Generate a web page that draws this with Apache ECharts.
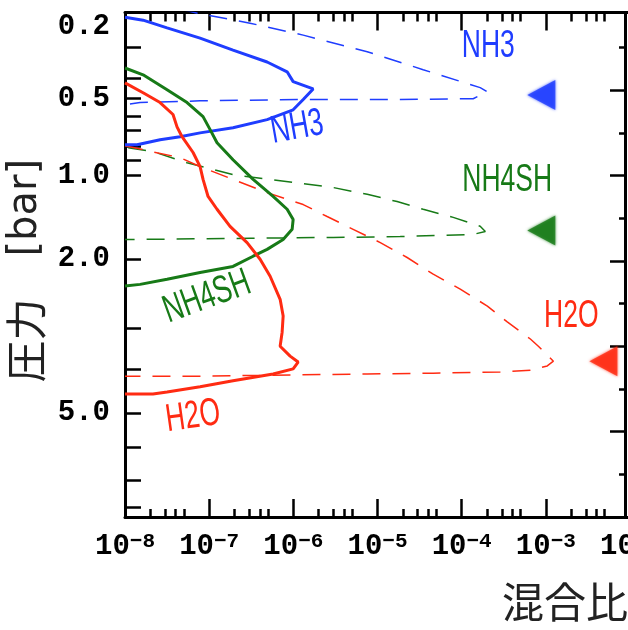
<!DOCTYPE html>
<html>
<head>
<meta charset="utf-8">
<script src="https://cdn.jsdelivr.net/npm/echarts@6/dist/echarts.min.js"></script>
<style>
  html, body { margin: 0; padding: 0; background: #fff; }
  #chart { width: 628px; height: 630px; }
</style>
</head>
<body>
<div id="chart"></div>
<script>
// ---- axis tables ----
// mixing-ratio decades (powers of ten) and the minor multipliers drawn in each decade
const decadeExponents = [-8, -7, -6, -5, -4, -3, -2];
const minorMultipliers = [2, 3, 4, 5];

// pressure levels [bar] and their altitude [km] (1 bar = 0 km)
const pressureLevels = [0.2, 0.3, 0.4, 0.5, 0.6, 0.7, 0.8, 0.9, 1.0, 2.0, 3.0, 4.0, 5.0, 6.0, 7.0, 8.0];
const pressureAltKm  = [38.2, 30.1, 22.7, 18.0, 14.0, 10.5, 6.8, 3.5, 0, -19.6, -35.7, -45.3, -55.6, -63.6, -71.5, -77.6];
const labeledPressures = [5.0, 2.0, 1.0, 0.5, 0.2];

// altitude ticks on the right-hand frame [km]
const altitudeMajorKm = [-80, -60, -40, -20, 0, 20];
const altitudeMinorKm = [-70, -50, -30, -10, 10, 30];
const altitudeBottomKm = -80;

// ---- profiles: [mixing ratio, altitude km] ----
const nh3Cloud = [
  [1.0e-8, 37.1], [1.64e-8, 36.4], [3.16e-8, 34.6], [7.8e-8, 32.2], [1.92e-7, 29.4],
  [4.88e-7, 26.6], [8.44e-7, 24.3], [9.95e-7, 22.0], [1.72e-6, 20.3], [1.31e-6, 17.8],
  [9.95e-7, 15.4], [4.88e-7, 13.1], [1.92e-7, 11.2], [7.8e-8, 10.0], [4.51e-8, 9.1],
  [2.61e-8, 8.4], [1.39e-8, 7.2], [1.0e-8, 7.2]
];
const nh3Gas = [
  [4.51e-8, 39.0], [7.8e-8, 37.9], [3.06e-7, 35.7], [1.31e-6, 32.9], [7.55e-6, 29.0],
  [3.49e-5, 24.8], [1.66e-4, 20.6], [2.02e-4, 19.6], [1.37e-4, 18.0], [1.86e-5, 17.8],
  [1.2e-6, 17.8], [7.8e-8, 17.5], [1.51e-8, 17.1], [1.0e-8, 16.6]
];
const nh4shCloud = [
  [1e-8, 25.2], [1.64e-8, 23.6], [3.16e-8, 20.1], [5.46e-8, 17.1], [8.46e-8, 13.8],
  [1.03e-7, 10.7], [1.24e-7, 7.7], [1.92e-7, 3.7], [3.33e-7, -0.9], [5.75e-7, -4.9],
  [8.44e-7, -7.9], [9.95e-7, -10.3], [9.68e-7, -12.6], [7.57e-7, -15.0], [4.88e-7, -17.3],
  [3.33e-7, -18.9], [1.92e-7, -21.3], [7.8e-8, -22.7], [3.16e-8, -24.3], [1.51e-8, -25.5],
  [1e-8, -25.9]
];
const nh4shGas = [
  [1.09e-8, 6.5], [2.15e-8, 5.6], [5.46e-8, 3.0], [1.92e-7, 0.2], [1.31e-6, -1.9],
  [2.97e-6, -2.8], [7.55e-6, -4.4], [1.71e-5, -6.1], [3.49e-5, -7.9], [7.94e-5, -9.8],
  [1.66e-4, -11.9], [1.91e-4, -13.1], [1.37e-4, -13.8], [1.86e-5, -14.3], [2.97e-6, -14.5],
  [3.06e-7, -14.7], [1e-8, -15.0]
];
const h2oCloud = [
  [1e-8, 21.7], [1.64e-8, 19.4], [2.61e-8, 17.1], [3.72e-8, 14.3], [4.15e-8, 11.4],
  [4.76e-8, 9.1], [6.44e-8, 5.4], [7.8e-8, 2.1], [8.46e-8, -0.9], [9.7e-8, -4.9],
  [1.24e-7, -7.9], [1.77e-7, -11.9], [2.82e-7, -15.7], [4.03e-7, -19.6], [5.3e-7, -23.6],
  [6.97e-7, -29.0], [7.57e-7, -32.9], [7.36e-7, -36.7], [6.97e-7, -40.0], [9.16e-7, -42.3],
  [1.14e-6, -43.7], [9.95e-7, -45.3], [5.75e-7, -46.5], [1.92e-7, -48.1], [7.8e-8, -49.5],
  [3.16e-8, -50.7], [2.15e-8, -51.2], [1e-8, -51.2]
];
const h2oGas = [
  [1e-8, 7.0], [2.09e-8, 5.6], [4.51e-8, 4.2], [7.8e-8, 2.1], [1.92e-7, -0.9],
  [4.88e-7, -4.0], [1.31e-6, -6.8], [2.52e-6, -9.6], [5.14e-6, -12.6], [1.08e-5, -15.7],
  [2.25e-5, -19.2], [4.59e-5, -23.1], [9.62e-5, -26.6], [2.02e-4, -30.6], [3.48e-4, -34.3],
  [6.55e-4, -38.3], [8.15e-4, -40.0], [1.23e-3, -43.5], [1.04e-3, -44.6], [6.55e-4, -45.6],
  [2.88e-4, -46.0], [4.59e-5, -46.3], [7.55e-6, -46.5], [1.2e-6, -46.7], [7.8e-8, -47.0],
  [1e-8, -47.0]
];

// deep-abundance markers (one per species)
const markerAt = [[8.84e-4, 18.9], [8.84e-4, -12.9], [4.83e-3, -43.5]];

// species names written in the plot
const tagText    = ['NH3', 'NH4SH', 'H2O', 'NH3', 'NH4SH', 'H2O'];
const tagAnchor  = [[2.07e-4, 30.4], [3.48e-4, -1.2], [2.01e-3, -32.9], [1.11e-6, 11.2], [9.44e-8, -28.5], [6.44e-8, -56.5]];
const tagAngle   = [0, 0, 0, 10, 20, 8];
const tagSpecies = [0, 1, 2, 0, 1, 2];

// ---- styling ----
const speciesColor = ['#1f3dff', '#177a17', '#ff2b12'];
const frame = { color: '#000', width: 3 };
const tickLine = { color: '#000', width: 2.5 };
const numFont = 'Liberation Mono';
const cjkFont = 'Noto Sans CJK JP';

const xMin = Math.pow(10, decadeExponents[0]);
const xMax = Math.pow(10, decadeExponents[decadeExponents.length - 1]);
const minorX = [];
decadeExponents.slice(0, -1).forEach(function (e) {
  minorMultipliers.forEach(function (m) { minorX.push(m * Math.pow(10, e)); });
});
const labelAlt = labeledPressures.map(function (p) { return pressureAltKm[pressureLevels.indexOf(p)]; });
const yMax = pressureAltKm[0];

function logAxis(position, opts) {
  return Object.assign({
    type: 'log', logBase: 10, min: xMin, max: xMax, position: position,
    axisLine: { show: false, onZero: false, lineStyle: frame },
    axisTick: { show: true, inside: true, length: 18, lineStyle: tickLine },
    axisLabel: { show: false },
    splitLine: { show: false }, minorTick: { show: false }, minorSplitLine: { show: false }
  }, opts);
}
function altAxis(opts) {
  return Object.assign({
    type: 'value', min: altitudeBottomKm, max: yMax, position: 'right', offset: -5,
    axisLine: { show: false, onZero: false, lineStyle: frame },
    axisTick: { show: true, inside: true, lineStyle: tickLine },
    axisLabel: { show: false },
    splitLine: { show: false }
  }, opts);
}

function lineSeries(data, color, dashed) {
  return {
    type: 'line', data: data, symbol: 'none', showSymbol: false, clip: true, silent: true,
    z: dashed ? 2 : 3,
    lineStyle: dashed ? { color: color, width: 1.5, type: [18, 12] } : { color: color, width: 3 }
  };
}

const option = {
  backgroundColor: '#fff',
  animation: false,
  grid: { left: 125, top: 12.5, right: -2, bottom: 113, containLabel: false, outerBoundsMode: 'none' },
  xAxis: [
    logAxis('bottom', {
      axisLine: { show: true, onZero: false, lineStyle: frame },
      axisLabel: {
        show: true, margin: 14,
        formatter: function (v) {
          const e = Math.round(Math.log10(v));
          return '{b|10}{s|\u2212' + Math.abs(e) + '}';
        },
        rich: {
          b: { fontFamily: numFont, fontWeight: 'bold', fontSize: 29, lineHeight: 31, color: '#000' },
          s: { fontFamily: numFont, fontWeight: 'bold', fontSize: 21, lineHeight: 14, verticalAlign: 'top', color: '#000' }
        }
      },
      name: '混合比', nameLocation: 'end', nameGap: -2,
      nameTextStyle: { fontFamily: cjkFont, fontSize: 42, color: '#222', align: 'right', verticalAlign: 'top', padding: [64, 0, 0, 0] }
    }),
    logAxis('bottom', { axisTick: { show: true, inside: true, length: 8, lineStyle: tickLine, customValues: minorX } }),
    logAxis('top', { axisLine: { show: true, onZero: false, lineStyle: frame } }),
    logAxis('top', { axisTick: { show: true, inside: true, length: 9, lineStyle: tickLine, customValues: minorX } })
  ],
  yAxis: [
    {
      type: 'value', min: altitudeBottomKm, max: yMax, position: 'left',
      axisLine: { show: true, onZero: false, lineStyle: frame },
      axisTick: { show: true, inside: true, length: 16, lineStyle: tickLine, customValues: pressureAltKm },
      axisLabel: {
        show: true, customValues: labelAlt, margin: 15,
        fontFamily: numFont, fontWeight: 'bold', fontSize: 29, color: '#000',
        verticalAlignMaxLabel: 'top',
        formatter: function (v) {
          const i = pressureAltKm.indexOf(v);
          return i < 0 ? '' : pressureLevels[i].toFixed(1);
        }
      },
      splitLine: { show: false },
      name: '{c|圧力\u3000}{l|[bar]}', nameLocation: 'middle', nameRotate: 90, nameGap: 78,
      nameTextStyle: {
        fontFamily: cjkFont, fontSize: 42, color: '#222', padding: [0, 12, 0, 0],
        rich: {
          c: { fontFamily: cjkFont, fontSize: 42, color: '#222' },
          l: { fontFamily: 'DejaVu Sans', fontSize: 40, color: '#222' }
        }
      }
    },
    altAxis({ axisLine: { show: true, onZero: false, lineStyle: frame },
              axisTick: { show: true, inside: true, length: 15, lineStyle: tickLine, customValues: altitudeMajorKm } }),
    altAxis({ axisTick: { show: true, inside: true, length: 6, lineStyle: tickLine, customValues: altitudeMinorKm } })
  ],
  series: [
    lineSeries(nh3Gas, speciesColor[0], true),
    lineSeries(nh4shGas, speciesColor[1], true),
    lineSeries(h2oGas, speciesColor[2], true),
    lineSeries(nh3Cloud, speciesColor[0], false),
    lineSeries(nh4shCloud, speciesColor[1], false),
    lineSeries(h2oCloud, speciesColor[2], false),
    {
      type: 'scatter', silent: true, z: 4,
      symbol: 'triangle', symbolRotate: 90, symbolSize: [30, 28],
      data: markerAt.map(function (p, i) {
        return { value: p, itemStyle: { color: speciesColor[i], shadowBlur: 3, shadowColor: speciesColor[i] } };
      })
    },
    {
      type: 'custom', silent: true, z: 5,
      data: tagAnchor,
      renderItem: function (params, api) {
        const i = params.dataIndex;
        const p = api.coord([api.value(0), api.value(1)]);
        return {
          type: 'text', x: p[0], y: p[1],
          rotation: tagAngle[i] * Math.PI / 180, scaleX: 0.68,
          style: {
            text: tagText[i], fill: speciesColor[tagSpecies[i]],
            fontFamily: 'Liberation Sans', fontSize: 39,
            align: 'center', verticalAlign: 'middle'
          }
        };
      }
    }
  ]
};

const chart = echarts.init(document.getElementById('chart'), null, { renderer: 'canvas' });
chart.setOption(option);
</script>
</body>
</html>
